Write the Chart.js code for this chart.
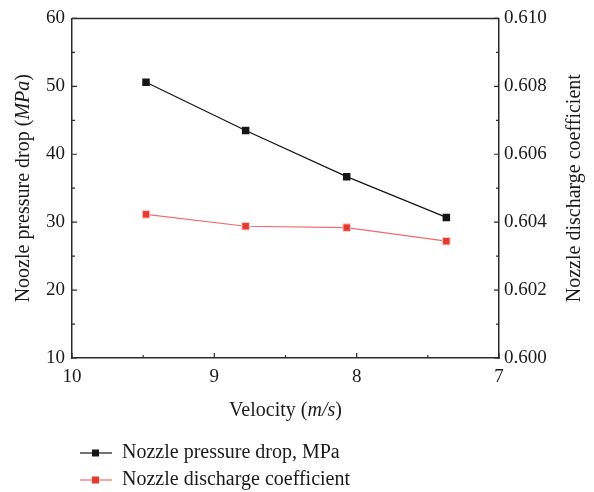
<!DOCTYPE html>
<html>
<head>
<meta charset="utf-8">
<script src="https://cdn.jsdelivr.net/npm/chart.js@4.4.1/dist/chart.umd.min.js"></script>
<style>
  body { margin: 0; background: #fff; }
  #wrap { width: 594px; height: 492px; position: relative; }
</style>
</head>
<body>
<div id="wrap"><canvas id="chart"></canvas></div>
<script>
// velocity (m/s)
const velocity = [9.48, 8.78, 8.07, 7.37];
// left axis: nozzle pressure drop (MPa)
const pressureDrop = [50.6, 43.5, 36.7, 30.7];
// right axis: nozzle discharge coefficient
const dischargeCoef = [0.60423, 0.60388, 0.60384, 0.60344];

const xTicks = [10, 9, 8, 7];
const leftTicks = [10, 20, 30, 40, 50, 60];
const rightTicks = [0.600, 0.602, 0.604, 0.606, 0.608, 0.610];

const seriesNames = ['Nozzle pressure drop, MPa', 'Nozzle discharge coefficient'];

const SERIF = '"Liberation Serif", "Times New Roman", serif';
const TICK_SIZE = 19;
const TITLE_SIZE = 20;
const AXIS_COLOR = '#2a2a2a';

function toPoints(xs, ys) {
    return xs.map((x, i) => ({ x: x, y: ys[i] }));
}

// draws a label made of plain + italic pieces, centred on (x, y)
function drawMixed(ctx, parts, x, y, rotation) {
    ctx.save();
    ctx.translate(x, y);
    ctx.rotate(rotation);
    ctx.textBaseline = 'middle';
    ctx.textAlign = 'left';
    ctx.fillStyle = '#1a1a1a';
    let total = 0;
    parts.forEach((p) => {
        ctx.font = (p.italic ? 'italic ' : '') + TITLE_SIZE + 'px ' + SERIF;
        p.w = ctx.measureText(p.text).width;
        total += p.w;
    });
    let cx = -total / 2;
    parts.forEach((p) => {
        ctx.font = (p.italic ? 'italic ' : '') + TITLE_SIZE + 'px ' + SERIF;
        ctx.fillText(p.text, cx, 0);
        cx += p.w;
    });
    ctx.restore();
}

// inward ticks, top border, axis titles and the legend
const framePlugin = {
    id: 'frame',
    afterDraw(chart) {
        const ctx = chart.ctx;
        const a = chart.chartArea;
        const sx = chart.scales.x, sy = chart.scales.y, sy1 = chart.scales.y1;

        ctx.save();
        ctx.strokeStyle = AXIS_COLOR;
        ctx.lineWidth = 1.5;
        ctx.beginPath();
        ctx.moveTo(a.left, a.top);
        ctx.lineTo(a.right, a.top);
        ctx.stroke();

        ctx.lineWidth = 1.2;
        const major = 5, minor = 3;
        function ticksFor(scale, draw) {
            const vals = scale.ticks.map((t) => t.value);
            vals.forEach((v, i) => {
                draw(scale.getPixelForValue(v), major);
                if (i < vals.length - 1) {
                    draw(scale.getPixelForValue((v + vals[i + 1]) / 2), minor);
                }
            });
        }
        ctx.beginPath();
        ticksFor(sx, (px, len) => { ctx.moveTo(px, a.bottom); ctx.lineTo(px, a.bottom - len); });
        ticksFor(sy, (py, len) => { ctx.moveTo(a.left, py); ctx.lineTo(a.left + len, py); });
        ticksFor(sy1, (py, len) => { ctx.moveTo(a.right, py); ctx.lineTo(a.right - len, py); });
        ctx.stroke();
        ctx.restore();

        const midY = (a.top + a.bottom) / 2;
        drawMixed(ctx, [{ text: 'Noozle pressure drop (' }, { text: 'MPa', italic: true }, { text: ')' }],
            24, midY, -Math.PI / 2);
        drawMixed(ctx, [{ text: 'Nozzle discharge coefficient' }], 575, midY, -Math.PI / 2);
        drawMixed(ctx, [{ text: 'Velocity (' }, { text: 'm/s', italic: true }, { text: ')' }],
            (a.left + a.right) / 2, a.bottom + 53, 0);

        // legend: line sample with a square marker, then the series name
        chart.data.datasets.forEach((ds, i) => {
            const ly = 453 + i * 27;
            ctx.save();
            ctx.strokeStyle = ds.borderColor;
            ctx.lineWidth = 1.2;
            ctx.beginPath();
            ctx.moveTo(80, ly);
            ctx.lineTo(112, ly);
            ctx.stroke();
            ctx.fillStyle = ds.pointBackgroundColor;
            ctx.fillRect(92, ly - 3.5, 7, 7);
            ctx.fillStyle = '#1a1a1a';
            ctx.font = TITLE_SIZE + 'px ' + SERIF;
            ctx.textBaseline = 'middle';
            ctx.textAlign = 'left';
            ctx.fillText(ds.label, 122, ly);
            ctx.restore();
        });
    }
};

const tickFont = { family: SERIF, size: TICK_SIZE };

new Chart(document.getElementById('chart').getContext('2d'), {
    type: 'line',
    data: {
        datasets: [
            {
                label: seriesNames[0],
                data: toPoints(velocity, pressureDrop),
                yAxisID: 'y',
                borderColor: '#151515',
                borderWidth: 1.2,
                pointStyle: 'rect',
                pointRadius: 5.3,
                pointBackgroundColor: '#151515',
                pointBorderColor: '#151515',
                pointBorderWidth: 0,
                tension: 0,
            },
            {
                label: seriesNames[1],
                data: toPoints(velocity, dischargeCoef),
                yAxisID: 'y1',
                borderColor: '#f26a6a',
                borderWidth: 1.2,
                pointStyle: 'rect',
                pointRadius: 5.3,
                pointBackgroundColor: '#e8392f',
                pointBorderColor: '#fbd0cc',
                pointBorderWidth: 1,
                tension: 0,
            },
        ],
    },
    options: {
        responsive: true,
        maintainAspectRatio: false,
        animation: false,
        layout: { padding: { top: 16, left: 0, right: 0, bottom: 104 } },
        plugins: {
            legend: { display: false },
            tooltip: { enabled: false },
        },
        scales: {
            x: {
                type: 'linear',
                reverse: true,
                min: 7,
                max: 10,
                afterBuildTicks: (s) => { s.ticks = xTicks.map((v) => ({ value: v })); },
                afterFit: (s) => { s.height = 30; },
                grid: { display: false, drawTicks: false },
                border: { display: true, color: AXIS_COLOR, width: 1.5 },
                ticks: { font: tickFont, color: '#1a1a1a', padding: 8, autoSkip: false, maxRotation: 0 },
            },
            y: {
                position: 'left',
                min: 10,
                max: 60,
                afterBuildTicks: (s) => { s.ticks = leftTicks.map((v) => ({ value: v })); },
                afterFit: (s) => { s.width = 72; },
                grid: { display: false, drawTicks: false },
                border: { display: true, color: AXIS_COLOR, width: 1.5 },
                ticks: { font: tickFont, color: '#1a1a1a', padding: 7, autoSkip: false },
            },
            y1: {
                position: 'right',
                min: 0.600,
                max: 0.610,
                afterBuildTicks: (s) => { s.ticks = rightTicks.map((v) => ({ value: v })); },
                afterFit: (s) => { s.width = 95; },
                grid: { display: false, drawTicks: false },
                border: { display: true, color: AXIS_COLOR, width: 1.5 },
                ticks: {
                    font: tickFont, color: '#1a1a1a', padding: 5, autoSkip: false,
                    callback: (v) => Number(v).toFixed(3),
                },
            },
        },
    },
    plugins: [framePlugin],
});
</script>
</body>
</html>
